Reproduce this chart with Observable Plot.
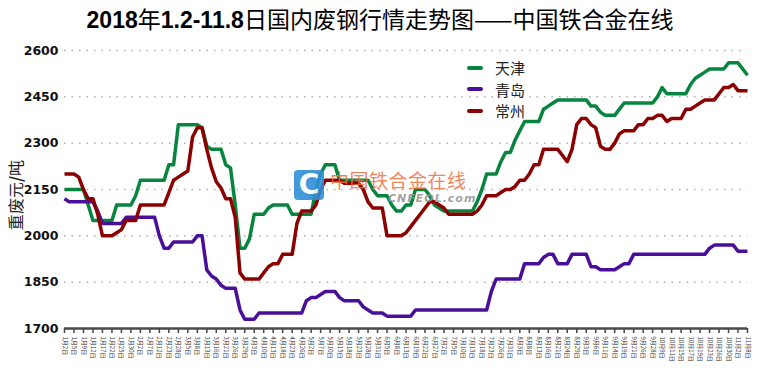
<!DOCTYPE html>
<html><head><meta charset="utf-8">
<script src="https://cdn.jsdelivr.net/npm/d3@7"></script>
<script src="https://cdn.jsdelivr.net/npm/@observablehq/plot@0.6"></script>
<style>
body{margin:0;background:#fff;}
#wrap{position:relative;width:760px;height:370px;overflow:hidden;font-family:"Noto Sans CJK SC",sans-serif;}
#title{position:absolute;left:0;top:3px;width:760px;text-align:center;font-size:23px;line-height:30px;color:#000;white-space:nowrap;}
#title b{font-family:"Liberation Sans",Arial,sans-serif;font-weight:bold;}
#chart{position:absolute;left:0;top:35px;}
#ytitle{position:absolute;left:-35px;top:183px;width:100px;height:24px;line-height:24px;text-align:center;transform:rotate(-90deg);font-size:16px;color:#222;white-space:nowrap;}
#legend{position:absolute;left:467px;top:57px;}
.lg{display:flex;align-items:center;height:21.5px;font-size:15px;color:#222;}
.lg i{display:inline-block;width:16px;height:4px;border-radius:2px;margin-right:12px;}
#logo{position:absolute;left:294px;top:170px;width:30px;height:30px;background:#2f8fd6;border-radius:4px;color:#fff;font:bold 28px/30px "DejaVu Sans",sans-serif;text-align:center;opacity:0.9;}
#wm{position:absolute;left:330px;top:169px;font-size:19px;line-height:22px;letter-spacing:0.5px;color:rgba(240,110,60,0.85);white-space:nowrap;}
#wm2{position:absolute;left:388px;top:192px;font:italic bold 11px/13px "DejaVu Sans",sans-serif;letter-spacing:1px;color:rgba(150,150,150,0.9);white-space:nowrap;}
</style></head>
<body>
<div id="wrap">
  <div id="title"><b>2018</b>年<b>1.2-11.8</b>日国内废钢行情走势图——中国铁合金在线</div>
  <div id="chart"></div>
  <div id="ytitle">重废元<b>/</b>吨</div>
  <div id="legend"></div>
  <div id="logo">C</div>
  <div id="wm">中国铁合金在线</div>
  <div id="wm2">CNFEOL.com</div>
</div>
<script>
const seriesNames = ["天津", "青岛", "常州"];
const seriesColors = ["#07853f", "#4a0f99", "#8b0000"];
const yTicks = [1700, 1850, 2000, 2150, 2300, 2450, 2600];
const dateLabels = ["1月2日","1月5日","1月9日","1月12日","1月17日","1月22日","1月25日","1月30日","2月2日","2月7日",
"2月12日","2月23日","2月28日","3月5日","3月8日","3月13日","3月16日","3月21日","3月26日","3月29日",
"4月3日","4月10日","4月13日","4月18日","4月23日","4月26日","5月2日","5月7日","5月10日","5月15日",
"5月18日","5月23日","5月28日","5月31日","6月5日","6月8日","6月13日","6月19日","6月22日","6月27日",
"7月2日","7月5日","7月10日","7月13日","7月18日","7月23日","7月26日","7月31日","8月3日","8月8日",
"8月13日","8月16日","8月21日","8月24日","8月29日","9月3日","9月6日","9月11日","9月14日","9月19日",
"9月21日","9月26日","9月28日","10月9日","10月11日","10月15日","10月17日","10月19日","10月23日","10月26日",
"10月30日","11月2日","11月8日"];
// 天津
const tianjin = [2150,2150,2150,2150,2150,2100,2050,2050,2050,2050,
2050,2100,2100,2100,2100,2130,2180,2180,2180,2180,
2180,2180,2230,2230,2360,2360,2360,2360,2360,2350,
2290,2280,2280,2280,2230,2220,2100,1960,1960,1990,
2070,2070,2070,2090,2100,2100,2100,2100,2070,2070,
2070,2070,2070,2150,2200,2230,2230,2230,2180,2180,
2180,2180,2180,2180,2180,2150,2130,2130,2130,2100,
2080,2080,2100,2100,2150,2150,2150,2130,2100,2090,
2080,2080,2080,2080,2080,2080,2080,2110,2150,2200,
2200,2200,2240,2270,2270,2310,2340,2370,2370,2370,
2370,2410,2420,2430,2440,2440,2440,2440,2440,2440,
2440,2420,2420,2400,2390,2390,2390,2410,2430,2430,
2430,2430,2430,2430,2430,2450,2480,2460,2460,2460,
2460,2460,2490,2510,2520,2530,2540,2540,2540,2540,
2560,2560,2560,2540,2520];
// 青岛
const qingdao = [2120,2110,2110,2110,2110,2110,2110,2080,2040,2040,
2040,2040,2040,2060,2060,2060,2060,2060,2060,2060,
2000,1960,1960,1980,1980,1980,1980,1980,2000,2000,
1890,1870,1860,1840,1830,1830,1830,1760,1730,1730,
1730,1750,1750,1750,1750,1750,1750,1750,1750,1750,
1750,1790,1800,1800,1810,1820,1820,1820,1800,1790,
1790,1790,1790,1770,1760,1750,1750,1750,1740,1740,
1740,1740,1740,1740,1760,1760,1760,1760,1760,1760,
1760,1760,1760,1760,1760,1760,1760,1760,1760,1760,
1820,1860,1860,1860,1860,1860,1860,1910,1910,1910,
1910,1930,1940,1940,1910,1910,1910,1940,1940,1940,
1940,1900,1900,1890,1890,1890,1890,1900,1910,1910,
1940,1940,1940,1940,1940,1940,1940,1940,1940,1940,
1940,1940,1940,1940,1940,1940,1960,1970,1970,1970,
1970,1970,1950,1950,1950];
// 常州
const changzhou = [2200,2200,2200,2190,2150,2120,2120,2070,2000,2000,
2000,2010,2020,2050,2050,2050,2100,2100,2100,2100,
2100,2100,2140,2180,2190,2200,2210,2320,2350,2350,
2280,2220,2175,2155,2120,2120,2060,1880,1860,1860,
1860,1860,1880,1900,1910,1910,1940,1940,1940,2040,
2080,2080,2080,2100,2150,2180,2180,2180,2180,2170,
2170,2170,2170,2150,2110,2090,2090,2090,2000,2000,
2000,2000,2010,2030,2050,2070,2090,2110,2110,2100,
2090,2070,2070,2070,2070,2070,2070,2080,2100,2130,
2130,2130,2140,2150,2150,2160,2180,2180,2200,2230,
2230,2280,2280,2280,2280,2260,2240,2280,2360,2380,
2380,2360,2350,2290,2280,2280,2300,2330,2340,2340,
2340,2360,2360,2380,2380,2390,2390,2370,2380,2380,
2380,2410,2410,2420,2430,2440,2440,2440,2460,2480,
2480,2490,2470,2470,2470];

const seriesValues = [tianjin, qingdao, changzhou];
const rows = seriesValues.flatMap((vals, s) => vals.map((v, i) => ({i, v, name: seriesNames[s]})));
const last = tianjin.length - 1;

const chart = Plot.plot({
  width: 760, height: 335,
  marginTop: 15, marginBottom: 42, marginLeft: 64, marginRight: 13,
  style: {background: "transparent", overflow: "visible"},
  x: {domain: [0, last], axis: null},
  y: {domain: [1700, 2600], axis: null},
  color: {domain: seriesNames, range: seriesColors},
  marks: [
    Plot.gridY(yTicks.filter(t => t > 1700), {stroke: "#b0b0b0", strokeOpacity: 1, strokeWidth: 1.5, strokeDasharray: "1.5,6"}),
    Plot.axisY({ticks: yTicks, label: null, tickSize: 0, tickPadding: 6, fontSize: 12.5, fontWeight: "bold", fontFamily: "DejaVu Sans", fill: "#111", tickFormat: d => String(d)}),
    Plot.axisX({ticks: d3.range(0, last + 1, 2), label: null, tickFormat: i => dateLabels[i / 2], tickRotate: 90, tickSize: 5, tickPadding: 3, fontSize: 6, fontFamily: "Noto Sans CJK SC", fill: "#333", stroke: "#444", strokeWidth: 1.5}),
    Plot.ruleY([1700], {stroke: "#4a4a4a", strokeWidth: 2.5}),
    Plot.line(rows, {x: "i", y: "v", z: "name", stroke: "name", strokeWidth: 3.5, strokeLinejoin: "round", strokeLinecap: "butt"})
  ]
});
document.getElementById("chart").appendChild(chart);

const lg = document.getElementById("legend");
seriesNames.forEach((n, k) => {
  const row = document.createElement("div");
  row.className = "lg";
  row.innerHTML = `<i style="background:${seriesColors[k]}"></i>${n}`;
  lg.appendChild(row);
});
</script>
</body></html>
